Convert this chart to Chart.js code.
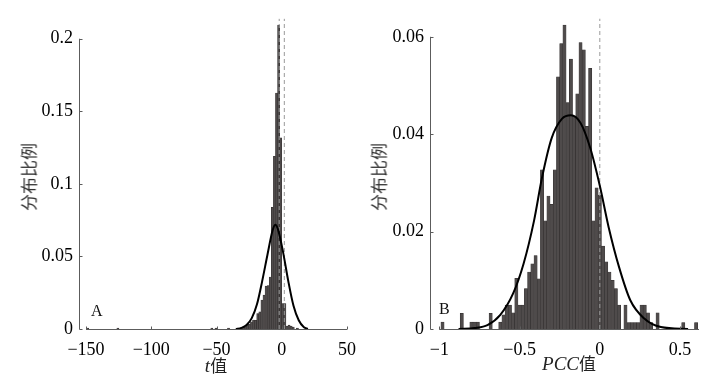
<!DOCTYPE html>
<html>
<head>
<meta charset="utf-8">
<script src="https://cdn.jsdelivr.net/npm/chart.js@4.4.1/dist/chart.umd.min.js"></script>
<style>
  body { margin: 0; background: #fff; width: 709px; height: 377px; overflow: hidden; position: relative; }
  canvas { position: absolute; top: 0; }
  #chartA { left: 0; }
  #chartB { left: 355px; }
  .panel { position: absolute; font-family: "Liberation Serif", serif; font-size: 16px; line-height: 16px; color: #111; }
  .ytitle { position: absolute; font-family: "Noto Sans CJK SC", sans-serif; font-size: 17px; color: #333;
            white-space: nowrap; transform: translate(-50%, -50%) rotate(-90deg); }
  .xtitle { position: absolute; font-size: 18px; line-height: 20px; color: #222; white-space: nowrap; transform: translateX(-50%); }
  .xtitle i { font-family: "Liberation Serif", serif; font-size: 19px; }
  .xtitle span { font-family: "Noto Sans CJK SC", sans-serif; font-size: 17px; }
</style>
</head>
<body>
<canvas id="chartA" width="366" height="377"></canvas>
<canvas id="chartB" width="354" height="377"></canvas>
<div class="panel" style="left:91px; top:303px;">A</div>
<div class="panel" style="left:439px; top:301px;">B</div>
<div class="ytitle" style="left:28px; top:177px;">分布比例</div>
<div class="ytitle" style="left:378px; top:177px;">分布比例</div>
<div class="xtitle" style="left:216px; top:355px;"><i>t</i><span>值</span></div>
<div class="xtitle" style="left:569px; top:353px;"><i>PCC</i><span>值</span></div>
<script>
// A: t值 分布
const tBins = [-148.8, -125.6, -53.6, -50.4, -40.8, -34.4, -31.2, -29.6, -28.0, -26.4, -24.8, -23.2,
  -21.6, -20.0, -18.4, -16.8, -15.2, -13.6, -12.0, -10.4, -8.8, -7.2, -5.6, -4.0, -2.4, -0.8,
  0.8, 2.4, 4.0, 5.6, 7.2, 8.8, 12.0];
const tShare = [0.0007, 0.0007, 0.0007, 0.0007, 0.0007, 0.0007, 0.0007, 0.0014, 0.0014, 0.0027, 0.0034, 0.0050,
  0.0062, 0.0060, 0.0107, 0.0119, 0.0200, 0.0233, 0.0295, 0.0300, 0.0358, 0.0838, 0.1190, 0.1626, 0.2094, 0.1317,
  0.0176, 0.0176, 0.0020, 0.0027, 0.0020, 0.0014, 0.0007];
const tFitX = [-35, -31, -27, -23, -19, -15, -11, -7, -5, -3, 1, 5, 9, 13, 17, 20];
const tFitY = [0, 0.0008, 0.0027, 0.0075, 0.0170, 0.0330, 0.0510, 0.0680, 0.0719, 0.0690, 0.0530, 0.0330, 0.0160, 0.0060, 0.0012, 0];
const tDash = [-1.96, 1.96];
const tTicks = [-150, -100, -50, 0, 50];
const tTickLabels = ['−150', '−100', '−50', '0', '50'];
const tShareTicks = [0, 0.05, 0.1, 0.15, 0.2];
const tShareLabels = ['0', '0.05', '0.1', '0.15', '0.2'];

// B: PCC值 分布
const pccBins = [-0.98, -0.86, -0.80, -0.78, -0.76, -0.68, -0.62, -0.60, -0.58, -0.56, -0.54, -0.52, -0.50,
  -0.48, -0.46, -0.44, -0.42, -0.40, -0.38, -0.36, -0.34, -0.32, -0.30, -0.28, -0.26, -0.24, -0.22, -0.20,
  -0.18, -0.16, -0.14, -0.12, -0.10, -0.08, -0.06, -0.04, -0.02, 0.00, 0.02, 0.04, 0.06, 0.08, 0.10, 0.12,
  0.16, 0.18, 0.20, 0.22, 0.24, 0.26, 0.28, 0.30, 0.32, 0.36, 0.52, 0.60];
const pccShare = [0.0014, 0.0032, 0.0014, 0.0014, 0.0014, 0.0032, 0.0014, 0.0029, 0.0049, 0.0049, 0.0033, 0.0104, 0.0049,
  0.0049, 0.0083, 0.0117, 0.0134, 0.0151, 0.0103, 0.0327, 0.0222, 0.0273, 0.0256, 0.0327, 0.0518, 0.0586, 0.0624, 0.0465,
  0.0554, 0.0437, 0.0483, 0.0588, 0.0573, 0.0416, 0.0535, 0.0222, 0.0290, 0.0275, 0.0170, 0.0138, 0.0117, 0.0100, 0.0083, 0.0049,
  0.0049, 0.0013, 0.0013, 0.0013, 0.0013, 0.0049, 0.0049, 0.0033, 0.0013, 0.0033, 0.0013, 0.0013];
const pccFitX = [-0.88, -0.78, -0.70, -0.62, -0.54, -0.475, -0.41, -0.36, -0.30, -0.235, -0.18, -0.12, -0.06, 0.0, 0.055, 0.12, 0.19, 0.275, 0.38, 0.55];
const pccFitY = [0, 0.0002, 0.0008, 0.0029, 0.0073, 0.0134, 0.0222, 0.0311, 0.0392, 0.0432, 0.0439, 0.0423, 0.0372, 0.0294, 0.0209, 0.0127, 0.0059, 0.0022, 0.0004, 0];
const pccDash = [0];
const pccTicks = [-1, -0.5, 0, 0.5];
const pccTickLabels = ['−1', '−0.5', '0', '0.5'];
const pccShareTicks = [0, 0.02, 0.04, 0.06];
const pccShareLabels = ['0', '0.02', '0.04', '0.06'];

// MATLAB 风格坐标轴：x 轴从第一个刻度开始，y 轴只画到最后一个刻度，刻度朝内
const axisLines = {
  id: 'axisLines',
  afterDraw(chart, args, opts) {
    const { ctx, chartArea, scales: { x, y } } = chart;
    const y0 = Math.round(y.getPixelForValue(0)) + 0.5;
    const yTop = y.getPixelForValue(opts.yTo);
    const left = Math.round(chartArea.left) + 0.5;
    ctx.save();
    ctx.strokeStyle = '#5c5c5c';
    ctx.lineWidth = 1;
    ctx.beginPath();
    ctx.moveTo(x.getPixelForValue(opts.xFrom), y0);
    ctx.lineTo(chartArea.right, y0);
    ctx.moveTo(left, y0);
    ctx.lineTo(left, yTop);
    x.ticks.forEach(t => {
      const p = Math.round(x.getPixelForValue(t.value)) + 0.5;
      ctx.moveTo(p, y0); ctx.lineTo(p, y0 - 3);
    });
    y.ticks.forEach(t => {
      const p = Math.round(y.getPixelForValue(t.value)) + 0.5;
      ctx.moveTo(left, p); ctx.lineTo(left + 3, p);
    });
    ctx.stroke();
    ctx.restore();
  }
};

const tickFont = { family: 'Liberation Serif', size: 18 };

function makeHistChart(canvasId, c) {
  const ctx = document.getElementById(canvasId);
  const datasets = [{
    type: 'bar',
    data: c.bins.map((b, i) => ({ x: b, y: c.share[i] })),
    backgroundColor: '#4f4b4b',
    borderColor: '#2e2b2b',
    borderWidth: 0.5,
    barPercentage: 1,
    categoryPercentage: 1,
    clip: false,
    order: 3
  }, {
    type: 'line',
    data: c.fitX.map((v, i) => ({ x: v, y: c.fitY[i] })),
    borderColor: '#000',
    borderWidth: 2,
    pointRadius: 0,
    tension: 0.4,
    cubicInterpolationMode: 'monotone',
    fill: false,
    clip: false,
    order: 1
  }];
  c.dash.forEach(v => datasets.push({
    type: 'line',
    data: [{ x: v, y: 0 }, { x: v, y: c.dashTop }],
    borderColor: '#9a9a9a',
    borderWidth: 1,
    borderDash: [4, 3],
    pointRadius: 0,
    clip: false,
    order: 2
  }));

  new Chart(ctx, {
    type: 'bar',
    data: { datasets: datasets },
    plugins: [axisLines],
    options: {
      responsive: false,
      animation: false,
      layout: { padding: { top: 15, right: c.padRight, left: 0, bottom: 0 } },
      plugins: {
        legend: { display: false },
        tooltip: { enabled: false },
        axisLines: { xFrom: c.xTicks[0], yTo: c.yTicks[c.yTicks.length - 1] }
      },
      scales: {
        x: {
          type: 'linear',
          min: c.xMin,
          max: c.xMax,
          offset: false,
          grid: { display: false, drawTicks: false, offset: false },
          border: { display: false },
          afterBuildTicks: s => { s.ticks = c.xTicks.map(v => ({ value: v })); },
          afterFit: s => { s.height = 48; },
          ticks: {
            callback: (v, i) => c.xLabels[i],
            font: tickFont, color: '#000', padding: 10, maxRotation: 0, autoSkip: false
          }
        },
        y: {
          min: 0,
          max: c.yMax,
          grid: { display: false, drawTicks: false },
          border: { display: false },
          afterBuildTicks: s => { s.ticks = c.yTicks.map(v => ({ value: v })); },
          afterFit: s => { s.width = c.yWidth; },
          ticks: {
            callback: (v, i) => c.yLabels[i],
            font: tickFont, color: '#000', padding: 6
          }
        }
      }
    }
  });
}

makeHistChart('chartA', {
  bins: tBins, share: tShare, fitX: tFitX, fitY: tFitY, dash: tDash, dashTop: 0.2137,
  xTicks: tTicks, xLabels: tTickLabels, yTicks: tShareTicks, yLabels: tShareLabels,
  xMin: -155.4, xMax: 50, yMax: 0.2151, yWidth: 79, padRight: 19
});

makeHistChart('chartB', {
  bins: pccBins, share: pccShare, fitX: pccFitX, fitY: pccFitY, dash: pccDash, dashTop: 0.0637,
  xTicks: pccTicks, xLabels: pccTickLabels, yTicks: pccShareTicks, yLabels: pccShareLabels,
  xMin: -1.058, xMax: 0.618, yMax: 0.0641, yWidth: 75, padRight: 10
});
</script>
</body>
</html>
